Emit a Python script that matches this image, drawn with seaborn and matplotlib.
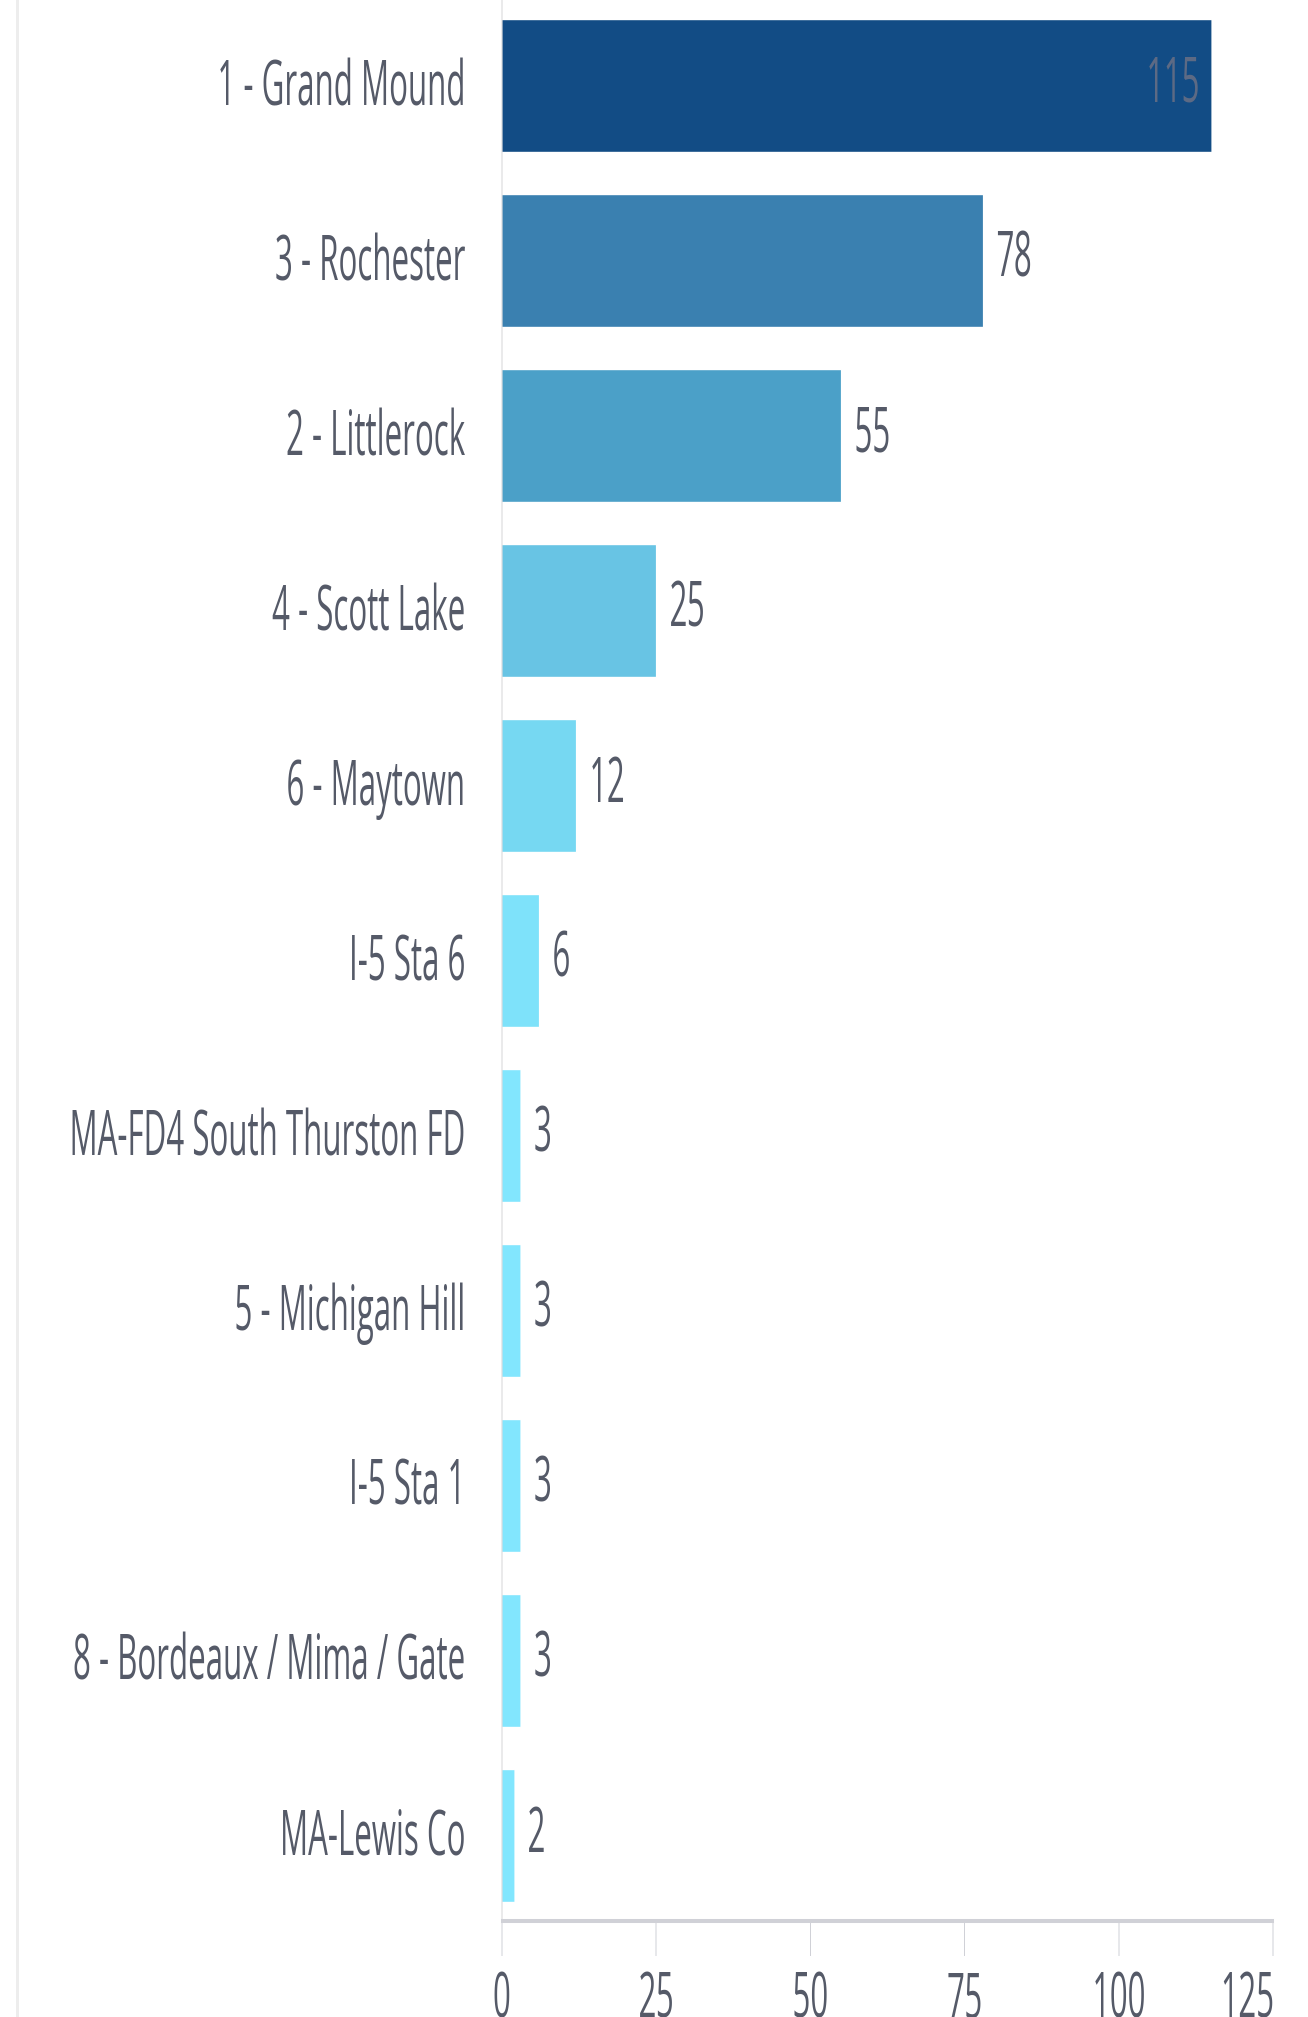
import numpy as np
import pandas as pd
import matplotlib
matplotlib.use("Agg")
import matplotlib.pyplot as plt
from matplotlib.lines import Line2D
from matplotlib.transforms import ScaledTranslation
import seaborn as sns

# Incidents by station / response area
stations = [
    "1 - Grand Mound",
    "3 - Rochester",
    "2 - Littlerock",
    "4 - Scott Lake",
    "6 - Maytown",
    "I-5 Sta 6",
    "MA-FD4 South Thurston FD",
    "5 - Michigan Hill",
    "I-5 Sta 1",
    "8 - Bordeaux / Mima / Gate",
    "MA-Lewis Co",
]
counts = [115, 78, 55, 25, 12, 6, 3, 3, 3, 3, 2]
bar_colors = [
    "#124c85", "#3a80b0", "#4ba0c8", "#68c4e4", "#76d8f2", "#7ee2fa",
    "#82e6fe", "#82e6fe", "#82e6fe", "#82e6fe", "#82e6fe",
]
x_ticks = [0, 25, 50, 75, 100, 125]

df = pd.DataFrame({"station": stations, "count": counts})

sns.set_theme(style="white")
plt.rcParams["font.family"] = ["Open Sans", "DejaVu Sans"]

TEXT = "#555a68"
FONT_SIZE = 45

# Drawn on a double-width canvas, then condensed horizontally by 2
W, H, DPI = 2616, 2017, 100
fig = plt.figure(figsize=(W / DPI, H / DPI), dpi=DPI, facecolor="white")
ax = fig.add_axes([0.3838, 0.0476, 0.9732 - 0.3838, 1 - 0.0476])

sns.barplot(
    data=df, x="count", y="station", hue="station",
    palette=bar_colors, legend=False, orient="h", width=0.76,
    saturation=1, ax=ax,
)

ax.set_xlim(0, 125)
ax.set_ylim(len(stations) - 0.51, -0.49)
ax.set_xticks(x_ticks)
ax.set_xlabel("")
ax.set_ylabel("")

for spine in ("top", "right"):
    ax.spines[spine].set_visible(False)
ax.spines["left"].set_color("#d6d6d8")
ax.spines["left"].set_linewidth(1.44)
ax.spines["bottom"].set_color("#d0d1d7")
ax.spines["bottom"].set_linewidth(2.9)

ax.tick_params(axis="y", length=0, pad=53, labelsize=FONT_SIZE, labelcolor=TEXT)
ax.tick_params(axis="x", length=25, width=1.44, color="#d0d1d7", pad=10,
               labelsize=FONT_SIZE, labelcolor=TEXT, bottom=True)

# nudge category labels up a little so they sit on the bar centre
for lab in ax.get_yticklabels():
    lab.set_transform(lab.get_transform() + ScaledTranslation(0, 3 / 72, fig.dpi_scale_trans))
# keep the last x tick label inside the axis end
last = ax.get_xticklabels()[-1]
last.set_horizontalalignment("right")
last.set_transform(last.get_transform() + ScaledTranslation(2 / 72, 0, fig.dpi_scale_trans))

# value labels: largest inside its bar, the rest just past the bar end
for i, container in enumerate(ax.containers):
    if counts[i] == max(counts):
        ax.annotate(str(counts[i]), xy=(counts[i], i), xytext=(-17, 0),
                    textcoords="offset points", ha="right", va="center",
                    color="#5d6a84", fontsize=FONT_SIZE)
    else:
        ax.bar_label(container, labels=[str(counts[i])], label_type="edge",
                     padding=19, color=TEXT, fontsize=FONT_SIZE)

# card border on the left
fig.add_artist(Line2D([0.0134, 0.0134], [0, 1], transform=fig.transFigure,
                      color="#ededed", linewidth=4.3))

fig.canvas.draw()
img = np.asarray(fig.canvas.buffer_rgba()).astype(np.float32) / 255.0
narrow = (img[:, 0::2, :] + img[:, 1::2, :]) / 2.0
plt.imsave("out.png", np.clip(narrow, 0, 1))
